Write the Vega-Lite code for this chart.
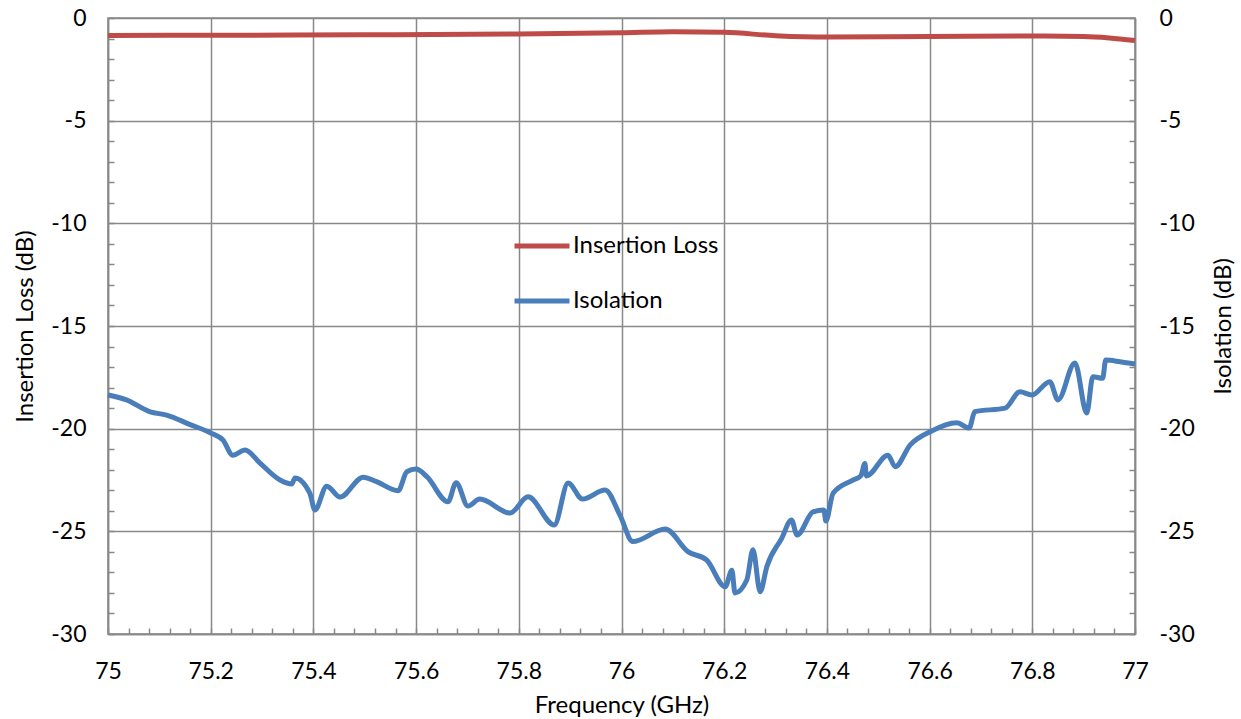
{
  "$schema": "https://vega.github.io/schema/vega-lite/v6.json",
  "width": 1027,
  "height": 616,
  "autosize": {"type": "none"},
  "padding": {"left": 108, "top": 18, "right": 106, "bottom": 85},
  "background": "white",
  "config": {
    "font": "Lato",
    "view": {"stroke": "#898989", "strokeWidth": 1.5},
    "axis": {
      "domainColor": "#898989", "domainWidth": 1.5,
      "tickColor": "#898989", "tickWidth": 1.5,
      "gridWidth": 1.5,
      "labelFontSize": 23, "labelColor": "#000000", "labelFlush": false, "labelBound": false,
      "titleFontSize": 24, "titleFontWeight": "normal", "titleColor": "#000000"
    }
  },
  "data": {"values": [
    {"freq": 75.0, "series": "Insertion Loss", "value": -0.85},
    {"freq": 75.25, "series": "Insertion Loss", "value": -0.84},
    {"freq": 75.5, "series": "Insertion Loss", "value": -0.82},
    {"freq": 75.8, "series": "Insertion Loss", "value": -0.78},
    {"freq": 76.0, "series": "Insertion Loss", "value": -0.72},
    {"freq": 76.1, "series": "Insertion Loss", "value": -0.67},
    {"freq": 76.2, "series": "Insertion Loss", "value": -0.7},
    {"freq": 76.3, "series": "Insertion Loss", "value": -0.86},
    {"freq": 76.4, "series": "Insertion Loss", "value": -0.93},
    {"freq": 76.6, "series": "Insertion Loss", "value": -0.9},
    {"freq": 76.8, "series": "Insertion Loss", "value": -0.88},
    {"freq": 76.9, "series": "Insertion Loss", "value": -0.9},
    {"freq": 76.95, "series": "Insertion Loss", "value": -0.97},
    {"freq": 77.0, "series": "Insertion Loss", "value": -1.1},
    {"freq": 75.0, "series": "Isolation", "value": -18.36},
    {"freq": 75.036, "series": "Isolation", "value": -18.6},
    {"freq": 75.082, "series": "Isolation", "value": -19.18},
    {"freq": 75.114, "series": "Isolation", "value": -19.34},
    {"freq": 75.16, "series": "Isolation", "value": -19.8},
    {"freq": 75.199, "series": "Isolation", "value": -20.2},
    {"freq": 75.224, "series": "Isolation", "value": -20.56},
    {"freq": 75.243, "series": "Isolation", "value": -21.29},
    {"freq": 75.267, "series": "Isolation", "value": -21.04},
    {"freq": 75.296, "series": "Isolation", "value": -21.68},
    {"freq": 75.335, "series": "Isolation", "value": -22.5},
    {"freq": 75.358, "series": "Isolation", "value": -22.7},
    {"freq": 75.364, "series": "Isolation", "value": -22.4},
    {"freq": 75.393, "series": "Isolation", "value": -23.14},
    {"freq": 75.403, "series": "Isolation", "value": -23.96},
    {"freq": 75.426, "series": "Isolation", "value": -22.8},
    {"freq": 75.452, "series": "Isolation", "value": -23.33},
    {"freq": 75.497, "series": "Isolation", "value": -22.36},
    {"freq": 75.523, "series": "Isolation", "value": -22.58},
    {"freq": 75.565, "series": "Isolation", "value": -23.02},
    {"freq": 75.582, "series": "Isolation", "value": -22.1},
    {"freq": 75.6, "series": "Isolation", "value": -21.97},
    {"freq": 75.621, "series": "Isolation", "value": -22.34},
    {"freq": 75.662, "series": "Isolation", "value": -23.56},
    {"freq": 75.678, "series": "Isolation", "value": -22.63},
    {"freq": 75.701, "series": "Isolation", "value": -23.77},
    {"freq": 75.724, "series": "Isolation", "value": -23.43},
    {"freq": 75.783, "series": "Isolation", "value": -24.11},
    {"freq": 75.818, "series": "Isolation", "value": -23.32},
    {"freq": 75.869, "series": "Isolation", "value": -24.69},
    {"freq": 75.896, "series": "Isolation", "value": -22.65},
    {"freq": 75.924, "series": "Isolation", "value": -23.43},
    {"freq": 75.968, "series": "Isolation", "value": -22.99},
    {"freq": 75.997, "series": "Isolation", "value": -24.21},
    {"freq": 76.022, "series": "Isolation", "value": -25.5},
    {"freq": 76.085, "series": "Isolation", "value": -24.89},
    {"freq": 76.13, "series": "Isolation", "value": -26.0},
    {"freq": 76.166, "series": "Isolation", "value": -26.4},
    {"freq": 76.202, "series": "Isolation", "value": -27.7},
    {"freq": 76.215, "series": "Isolation", "value": -26.89},
    {"freq": 76.221, "series": "Isolation", "value": -28.0},
    {"freq": 76.244, "series": "Isolation", "value": -27.37},
    {"freq": 76.256, "series": "Isolation", "value": -25.9},
    {"freq": 76.27, "series": "Isolation", "value": -27.94},
    {"freq": 76.283, "series": "Isolation", "value": -26.72},
    {"freq": 76.312, "series": "Isolation", "value": -25.34},
    {"freq": 76.331, "series": "Isolation", "value": -24.45},
    {"freq": 76.342, "series": "Isolation", "value": -25.18},
    {"freq": 76.373, "series": "Isolation", "value": -24.05},
    {"freq": 76.394, "series": "Isolation", "value": -23.96},
    {"freq": 76.398, "series": "Isolation", "value": -24.5},
    {"freq": 76.412, "series": "Isolation", "value": -23.14},
    {"freq": 76.451, "series": "Isolation", "value": -22.5},
    {"freq": 76.466, "series": "Isolation", "value": -22.3},
    {"freq": 76.474, "series": "Isolation", "value": -21.7},
    {"freq": 76.477, "series": "Isolation", "value": -22.3},
    {"freq": 76.519, "series": "Isolation", "value": -21.29},
    {"freq": 76.533, "series": "Isolation", "value": -21.85},
    {"freq": 76.562, "series": "Isolation", "value": -20.8},
    {"freq": 76.601, "series": "Isolation", "value": -20.15},
    {"freq": 76.653, "series": "Isolation", "value": -19.71},
    {"freq": 76.677, "series": "Isolation", "value": -19.97},
    {"freq": 76.688, "series": "Isolation", "value": -19.17},
    {"freq": 76.747, "series": "Isolation", "value": -19.0},
    {"freq": 76.776, "series": "Isolation", "value": -18.2},
    {"freq": 76.799, "series": "Isolation", "value": -18.36},
    {"freq": 76.834, "series": "Isolation", "value": -17.71},
    {"freq": 76.85, "series": "Isolation", "value": -18.6},
    {"freq": 76.883, "series": "Isolation", "value": -16.8},
    {"freq": 76.906, "series": "Isolation", "value": -19.24},
    {"freq": 76.918, "series": "Isolation", "value": -17.47},
    {"freq": 76.937, "series": "Isolation", "value": -17.55},
    {"freq": 76.943, "series": "Isolation", "value": -16.66},
    {"freq": 76.971, "series": "Isolation", "value": -16.74},
    {"freq": 77.0, "series": "Isolation", "value": -16.85}
  ]},
  "encoding": {
    "x": {
      "field": "freq", "type": "quantitative",
      "scale": {"domain": [75, 77], "nice": false, "zero": false},
      "axis": {
        "title": "Frequency (GHz)",
        "values": [75, 75.04, 75.08, 75.12, 75.16, 75.2, 75.24, 75.28, 75.32, 75.36, 75.4, 75.44, 75.48, 75.52, 75.56, 75.6, 75.64, 75.68, 75.72, 75.76, 75.8, 75.84, 75.88, 75.92, 75.96, 76, 76.04, 76.08, 76.12, 76.16, 76.2, 76.24, 76.28, 76.32, 76.36, 76.4, 76.44, 76.48, 76.52, 76.56, 76.6, 76.64, 76.68, 76.72, 76.76, 76.8, 76.84, 76.88, 76.92, 76.96, 77],
        "labelExpr": "abs(datum.value*5-round(datum.value*5))<0.000001 ? (round(datum.value*10)/10)+'' : ''",
        "grid": true,
        "gridColor": {"condition": {"test": "abs(datum.value*5-round(datum.value*5))<0.000001", "value": "#898989"}, "value": null},
        "tickSize": -6,
        "labelPadding": 32,
        "titlePadding": 10
      }
    },
    "color": {
      "field": "series", "type": "nominal",
      "scale": {"domain": ["Insertion Loss", "Isolation"], "range": ["#BE4B48", "#4A7EBB"]},
      "legend": {
        "title": null, "orient": "none", "legendX": 404, "legendY": 198,
        "symbolType": "stroke", "symbolSize": 3025, "symbolStrokeWidth": 5,
        "labelFontSize": 24, "labelColor": "#000000", "labelOffset": 1, "rowPadding": 13
      }
    }
  },
  "layer": [
    {
      "transform": [{"filter": "datum.series === 'Insertion Loss'"}],
      "mark": {"type": "line", "interpolate": "monotone", "strokeWidth": 5},
      "encoding": {
        "y": {
          "field": "value", "type": "quantitative",
          "scale": {"domain": [-30, 0], "nice": false, "zero": false},
          "axis": {
            "orient": "left", "title": "Insertion Loss (dB)",
            "values": [-30, -29, -28, -27, -26, -25, -24, -23, -22, -21, -20, -19, -18, -17, -16, -15, -14, -13, -12, -11, -10, -9, -8, -7, -6, -5, -4, -3, -2, -1, 0],
            "labelExpr": "datum.value % 5 === 0 ? datum.value + '' : ''",
            "grid": true,
            "gridColor": {"condition": {"test": "datum.value % 5 === 0", "value": "#898989"}, "value": null},
            "tickSize": -6, "labelPadding": 28, "titlePadding": 13
          }
        }
      }
    },
    {
      "transform": [{"filter": "datum.series === 'Isolation'"}],
      "mark": {"type": "line", "interpolate": "monotone", "strokeWidth": 5},
      "encoding": {
        "y": {
          "field": "value", "type": "quantitative",
          "scale": {"domain": [-30, 0], "nice": false, "zero": false},
          "axis": {
            "orient": "right", "title": "Isolation (dB)", "titleAngle": 270,
            "values": [-30, -29, -28, -27, -26, -25, -24, -23, -22, -21, -20, -19, -18, -17, -16, -15, -14, -13, -12, -11, -10, -9, -8, -7, -6, -5, -4, -3, -2, -1, 0],
            "labelExpr": "datum.value % 5 === 0 ? datum.value + '' : ''",
            "grid": false,
            "tickSize": -6, "labelPadding": 30, "titlePadding": 41
          }
        }
      }
    }
  ],
  "resolve": {"scale": {"y": "independent"}}
}
